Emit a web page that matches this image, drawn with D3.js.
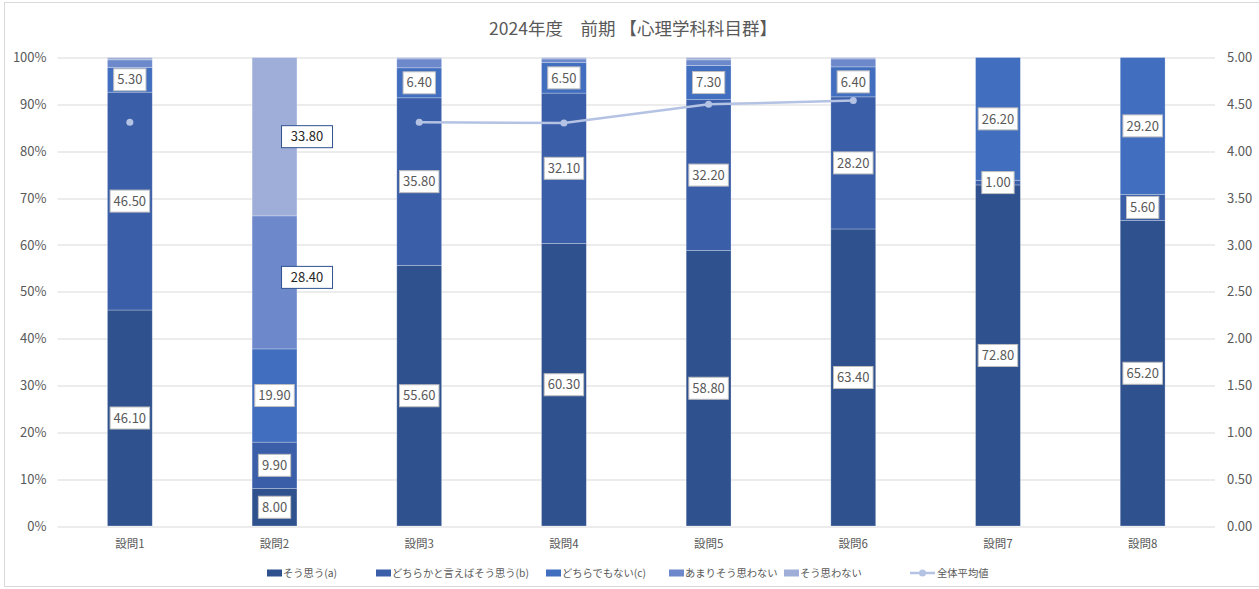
<!DOCTYPE html>
<html>
<head>
<meta charset="utf-8">
<script src="https://cdn.jsdelivr.net/npm/d3@7"></script>
<style>
  body { margin: 0; background: #fff; }
  svg text { font-family: "Noto Sans CJK JP", "Noto Sans", sans-serif; }
</style>
</head>
<body>
<div id="canvas"></div>
<script>
const questions = ["設問1", "設問2", "設問3", "設問4", "設問5", "設問6", "設問7", "設問8"];
const seriesNames = ["そう思う(a)", "どちらかと言えばそう思う(b)", "どちらでもない(c)", "あまりそう思わない", "そう思わない"];
const soOmou = [46.1, 8.0, 55.6, 60.3, 58.8, 63.4, 72.8, 65.2];
const dochiraKa = [46.5, 9.9, 35.8, 32.1, 32.2, 28.2, 1.0, 5.6];
const dochiraDemo = [5.3, 19.9, 6.4, 6.5, 7.3, 6.4, 26.2, 29.2];
const amari = [1.6, 28.4, 1.9, 0.8, 1.2, 1.7, 0, 0];
const omowanai = [0.5, 33.8, 0.3, 0.3, 0.5, 0.3, 0, 0];
const average = [4.31, null, 4.31, 4.30, 4.50, 4.54, null, null];
const leftTicks = [0, 10, 20, 30, 40, 50, 60, 70, 80, 90, 100];
const rightTicks = [0, 0.5, 1, 1.5, 2, 2.5, 3, 3.5, 4, 4.5, 5];
const chartTitle = "2024年度　前期 【心理学科科目群】";
const lineName = "全体平均値";

const colors = ["#2f528f", "#3a5ea8", "#416ebf", "#6d89cc", "#9eaed9"];
const lineColor = "#b4c2e3";

const width = 1259, height = 589;
const margin = { top: 57.5, left: 57.5, bottom: 63, right: 44 };
const iwidth = width - margin.left - margin.right;
const iheight = height - margin.top - margin.bottom;

const svg = d3.select("#canvas").append("svg")
  .attr("width", width).attr("height", height);

// chart border
svg.append("rect")
  .attr("x", 4.5).attr("y", 2.5).attr("width", width + 10).attr("height", height - 5)
  .attr("fill", "none").attr("stroke", "#d9d9d9");

svg.append("text")
  .attr("x", 633).attr("y", 35)
  .attr("text-anchor", "middle")
  .attr("font-size", 17.5).attr("fill", "#595959")
  .text(chartTitle);

const g = svg.append("g").attr("transform", `translate(${margin.left},${margin.top})`);

const x = d3.scaleBand().domain(questions).range([0, iwidth]).paddingInner(0.69).paddingOuter(0.345);
const y = d3.scaleLinear().domain([0, 100]).range([iheight, 0]);
const y2 = d3.scaleLinear().domain([0, 5]).range([iheight, 0]);

// gridlines
g.append("g").selectAll("line").data(leftTicks).enter().append("line")
  .attr("x1", 0).attr("x2", iwidth)
  .attr("y1", d => Math.round(y(d)) + 0.5).attr("y2", d => Math.round(y(d)) + 0.5)
  .attr("stroke", "#d9d9d9");

// axes
const leftAxis = g.append("g").call(d3.axisLeft(y).tickValues(leftTicks).tickFormat(d => d + "%").tickSize(0).tickPadding(11));
const rightAxis = g.append("g").attr("transform", `translate(${iwidth},0)`)
  .call(d3.axisRight(y2).tickValues(rightTicks).tickFormat(d3.format(".2f")).tickSize(0).tickPadding(12));
const bottomAxis = g.append("g").attr("transform", `translate(0,${iheight})`)
  .call(d3.axisBottom(x).tickSize(0).tickPadding(14));
[leftAxis, rightAxis, bottomAxis].forEach(a => {
  a.select(".domain").remove();
  a.selectAll("text").attr("fill", "#595959").attr("font-size", 13);
});
bottomAxis.selectAll("text").attr("font-size", 11.5);

// stacked bars
const rows = questions.map((q, i) => ({
  q, s0: soOmou[i], s1: dochiraKa[i], s2: dochiraDemo[i], s3: amari[i], s4: omowanai[i]
}));
const keys = ["s0", "s1", "s2", "s3", "s4"];
const stacked = d3.stack().keys(keys)(rows);

const layers = g.selectAll(".layer").data(stacked).enter().append("g")
  .attr("fill", (d, i) => colors[i]);
layers.selectAll("rect").data(d => d).enter().append("rect")
  .attr("x", d => x(d.data.q))
  .attr("y", d => y(d[1]))
  .attr("height", d => y(d[0]) - y(d[1]))
  .attr("width", x.bandwidth())
  .attr("stroke", "rgba(255,255,255,0.35)").attr("stroke-width", 0.75);

// data labels
const labelData = [];
stacked.forEach((layer, si) => {
  layer.forEach(d => {
    const v = d[1] - d[0];
    if (si < 3 || v >= 5) {
      labelData.push({ q: d.data.q, v, mid: (d[0] + d[1]) / 2, si });
    }
  });
});
const labels = g.append("g").selectAll("g").data(labelData).enter().append("g")
  .attr("transform", d => {
    const moved = d.si >= 3;
    const dx = moved ? 32.5 : 0;
    const dy = moved ? (d.si === 3 ? -5 : 0) : 0;
    return `translate(${x(d.q) + x.bandwidth() / 2 + dx},${y(d.mid) + dy})`;
  });
labels.append("text")
  .attr("text-anchor", "middle").attr("dy", "0.36em")
  .attr("font-size", 13)
  .attr("fill", d => d.si >= 3 ? "#262626" : "#595959")
  .text(d => d.v.toFixed(2));
labels.each(function (d) {
  const t = d3.select(this).select("text");
  const w = d.si >= 3 ? 51 : t.node().getComputedTextLength() + 7;
  d3.select(this).insert("rect", "text")
    .attr("x", -w / 2).attr("y", -11).attr("width", w).attr("height", 22)
    .attr("fill", "#fff")
    .attr("stroke", d.si >= 3 ? "#2f528f" : "#bfbfbf").attr("stroke-width", 1);
});

// average line
const xc = q => x(q) + x.bandwidth() / 2;
const avgData = questions.map((q, i) => ({ q, v: average[i] }));
g.append("path")
  .datum(avgData)
  .attr("fill", "none").attr("stroke", lineColor).attr("stroke-width", 2.5)
  .attr("d", d3.line().defined(d => d.v != null).x(d => xc(d.q)).y(d => y2(d.v)));
g.append("g").selectAll("circle").data(avgData.filter(d => d.v != null)).enter().append("circle")
  .attr("cx", d => xc(d.q)).attr("cy", d => y2(d.v)).attr("r", 3.5)
  .attr("fill", lineColor);

// legend
const legendItems = seriesNames.map((n, i) => ({ name: n, color: colors[i], type: "rect" }))
  .concat([{ name: lineName, color: lineColor, type: "line" }]);
const legendX = [267, 376, 546, 669, 784, 910];
const legend = svg.append("g").selectAll("g").data(legendItems).enter().append("g")
  .attr("transform", (d, i) => `translate(${legendX[i]},573)`);
legend.filter(d => d.type === "rect").append("rect")
  .attr("x", 0).attr("y", -3.5).attr("width", 15).attr("height", 7).attr("fill", d => d.color);
const lineItem = legend.filter(d => d.type === "line");
lineItem.append("line").attr("x1", 0).attr("x2", 25).attr("y1", 0).attr("y2", 0)
  .attr("stroke", lineColor).attr("stroke-width", 2.5);
lineItem.append("circle").attr("cx", 12.5).attr("cy", 0).attr("r", 3.5).attr("fill", lineColor);
legend.append("text")
  .attr("x", d => d.type === "line" ? 27 : 16).attr("dy", "0.36em")
  .attr("font-size", 10.3).attr("fill", "#595959")
  .text(d => d.name);
</script>
</body>
</html>
